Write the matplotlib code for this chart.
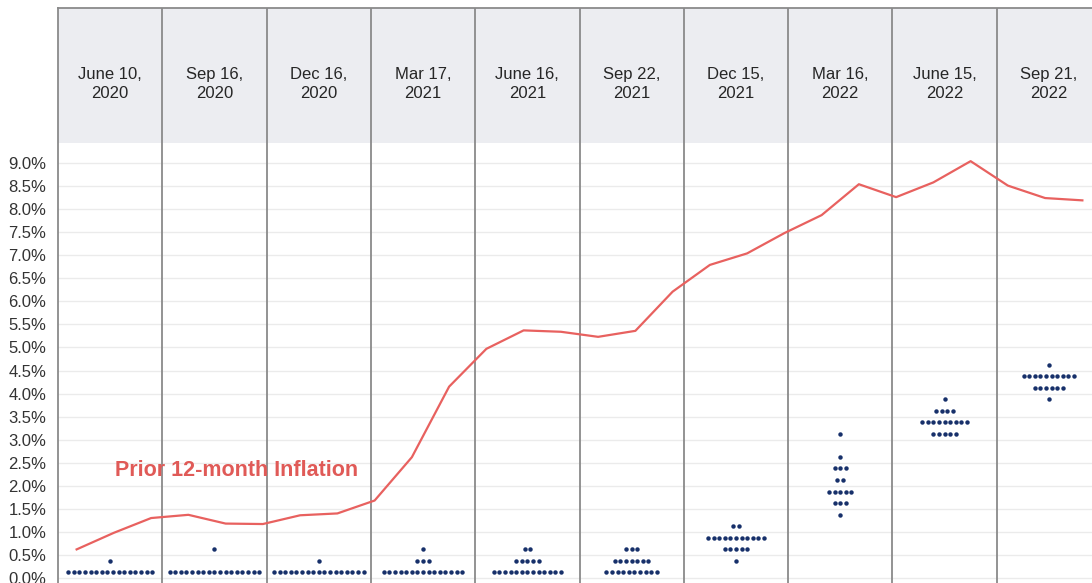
import matplotlib
matplotlib.use("Agg")
import matplotlib.pyplot as plt
from matplotlib.ticker import FuncFormatter

plt.rcParams['font.family'] = ['Liberation Sans', 'DejaVu Sans']

# FOMC meeting dates (one panel each)
meetings = ['June 10,\n2020', 'Sep 16,\n2020', 'Dec 16,\n2020', 'Mar 17,\n2021', 'June 16,\n2021',
            'Sep 22,\n2021', 'Dec 15,\n2021', 'Mar 16,\n2022', 'June 15,\n2022', 'Sep 21,\n2022']

# dot plot: rate levels (%) and number of participants at each level
dot_rates = [
    [0.125, 0.375],
    [0.125, 0.625],
    [0.125, 0.375],
    [0.125, 0.375, 0.625],
    [0.125, 0.375, 0.625],
    [0.125, 0.375, 0.625],
    [0.375, 0.625, 0.875, 1.125],
    [1.375, 1.625, 1.875, 2.125, 2.375, 2.625, 3.125],
    [3.125, 3.375, 3.625, 3.875],
    [3.875, 4.125, 4.375, 4.625],
]
dot_counts = [
    [16, 1],
    [17, 1],
    [17, 1],
    [15, 3, 1],
    [13, 5, 2],
    [10, 7, 3],
    [1, 5, 11, 2],
    [1, 3, 5, 2, 3, 1, 1],
    [5, 9, 4, 1],
    [1, 6, 10, 1],
]

# prior 12-month CPI inflation, Jun 2020 - Sep 2022 (monthly)
inflation = [0.62, 0.98, 1.30, 1.37, 1.18, 1.17, 1.36, 1.40, 1.68, 2.62, 4.15, 4.97, 5.37, 5.34,
             5.23, 5.36, 6.21, 6.79, 7.04, 7.48, 7.87, 8.54, 8.26, 8.58, 9.04, 8.51, 8.24, 8.19]

yticks = [i * 0.5 for i in range(19)]

fig = plt.figure(figsize=(10.92, 5.83), dpi=100)
ax = fig.add_axes([58 / 1092, -12 / 583, 1043 / 1092, 587 / 583])
ax.set_xlim(0, len(meetings))
ax.set_ylim(-0.369, 12.362)

# header band with meeting dates
ax.axhspan(9.434, 12.362, color='#ECEDF1', zorder=0, lw=0)
for i, m in enumerate(meetings):
    ax.text(i + 0.5, 10.71, m, ha='center', va='center', fontsize=12, color='#262626',
            linespacing=1.3)

# grid
for y in yticks:
    ax.axhline(y, color='#ebebeb', lw=1, zorder=1)
for i in range(1, len(meetings)):
    ax.axvline(i, color='#8a8a8a', lw=1.3, zorder=2)

for s in ax.spines.values():
    s.set_color('#8a8a8a')
    s.set_linewidth(1.3)

ax.set_yticks(yticks)
ax.yaxis.set_major_formatter(FuncFormatter(lambda v, p: f'{v:.1f}%'))
ax.tick_params(axis='y', length=0, pad=8.5, labelsize=12, labelcolor='#333333')
ax.set_xticks([])

# dots
spacing = 0.0537
for i, (rates, counts) in enumerate(zip(dot_rates, dot_counts)):
    for r, n in zip(rates, counts):
        xs = [i + 0.5 + (k - (n - 1) / 2) * spacing for k in range(n)]
        ax.plot(xs, [r] * n, 'o', color='#17306A', ms=3.2, mew=0, zorder=4)

# inflation line on its own monthly x scale
ax2 = ax.twiny()
ax2.set_xlim(-0.5, len(inflation) - 0.5)
ax2.plot(range(len(inflation)), inflation, color='#E8615F', lw=1.6, zorder=5)
ax2.set_xticks([])
for s in ax2.spines.values():
    s.set_visible(False)

ax.text(0.547, 2.34, 'Prior 12-month Inflation', ha='left', va='center', fontsize=15.5,
        fontweight='bold', color='#E05A57', zorder=6)

fig.savefig('out.png', dpi=100)
